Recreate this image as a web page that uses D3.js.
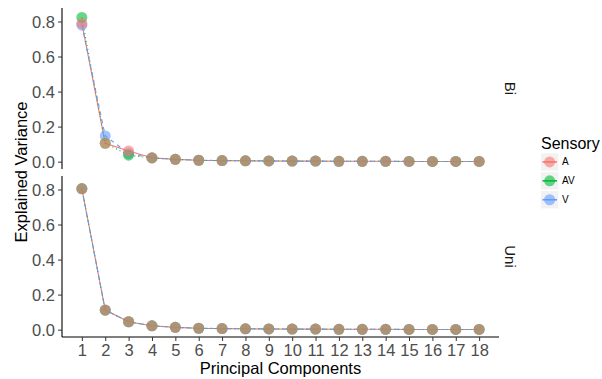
<!DOCTYPE html>
<html>
<head>
<meta charset="utf-8">
<script src="https://cdn.jsdelivr.net/npm/d3@7"></script>
<style>
body{margin:0;background:#fff;}
svg{display:block;font-family:"Liberation Sans",Arial,sans-serif;}
</style>
</head>
<body>
<svg id="chart" width="602" height="379"></svg>
<script>
const components = d3.range(1, 19);
const facets = ["Bi", "Uni"];
const sensory = ["A", "AV", "V"];
const colors = ["#F8766D", "#00BA38", "#619CFF"];
const dashes = [null, "1,3", "4,4"];
const yTicks = [0, 0.2, 0.4, 0.6, 0.8];

const biA  = [0.789, 0.105, 0.061, 0.022, 0.013, 0.008, 0.006, 0.005, 0.004, 0.003, 0.003, 0.002, 0.002, 0.002, 0.001, 0.001, 0.001, 0.001];
const biAV = [0.823, 0.105, 0.037, 0.021, 0.013, 0.008, 0.006, 0.005, 0.004, 0.003, 0.003, 0.002, 0.002, 0.002, 0.001, 0.001, 0.001, 0.001];
const biV  = [0.779, 0.147, 0.047, 0.022, 0.013, 0.008, 0.006, 0.005, 0.004, 0.003, 0.003, 0.002, 0.002, 0.002, 0.001, 0.001, 0.001, 0.001];
const uniA  = [0.804, 0.112, 0.045, 0.022, 0.013, 0.008, 0.006, 0.005, 0.004, 0.003, 0.003, 0.002, 0.002, 0.002, 0.001, 0.001, 0.001, 0.001];
const uniAV = [0.805, 0.111, 0.045, 0.022, 0.013, 0.008, 0.006, 0.005, 0.004, 0.003, 0.003, 0.002, 0.002, 0.002, 0.001, 0.001, 0.001, 0.001];
const uniV  = [0.804, 0.112, 0.045, 0.022, 0.013, 0.008, 0.006, 0.005, 0.004, 0.003, 0.003, 0.002, 0.002, 0.002, 0.001, 0.001, 0.001, 0.001];

const seriesByFacet = {Bi: [biA, biAV, biV], Uni: [uniA, uniAV, uniV]};

const svg = d3.select("#chart");
const left = 62, right = 499;
const panels = [{name: "Bi", top: 8, bottom: 169}, {name: "Uni", top: 176, bottom: 337}];

const x = d3.scaleLinear().domain([0.15, 18.85]).range([left, right]);
const color = d3.scaleOrdinal().domain(sensory).range(colors);

panels.forEach((p, pi) => {
  const y = d3.scaleLinear().domain([-0.042, 0.877]).range([p.bottom, p.top]);
  const g = svg.append("g");
  const data = seriesByFacet[p.name];
  const line = d3.line().x((d, i) => x(components[i])).y(d => y(d));

  data.forEach((vals, si) => {
    g.append("path").datum(vals)
      .attr("d", line)
      .attr("fill", "none")
      .attr("stroke", colors[si])
      .attr("stroke-width", 1.1)
      .attr("stroke-dasharray", dashes[si]);
  });
  [2, 1, 0].forEach(si => {
    g.selectAll(null).data(data[si]).enter().append("circle")
      .attr("cx", (d, i) => x(components[i]))
      .attr("cy", d => y(d))
      .attr("r", 5.5)
      .attr("fill", colors[si])
      .attr("fill-opacity", 0.6);
  });

  const ya = svg.append("g").attr("transform", `translate(${left},0)`)
    .call(d3.axisLeft(y).tickValues(yTicks).tickFormat(d3.format(".1f")).tickSize(4).tickPadding(3));
  ya.select(".domain").attr("d", `M0,${p.top}V${p.bottom}`).attr("stroke", "#000").attr("stroke-width", 1.1);
  ya.selectAll(".tick line").attr("stroke", "#333");
  ya.selectAll(".tick text").attr("fill", "#4d4d4d").style("font-size", "16.5px").attr("dy", "0.36em");

  svg.append("text")
    .attr("transform", `translate(${505},${(p.top + p.bottom) / 2}) rotate(90)`)
    .attr("text-anchor", "middle")
    .attr("fill", "#1a1a1a")
    .style("font-size", "15px")
    .text(p.name);

  if (pi === 1) {
    const xa = svg.append("g").attr("transform", `translate(0,${p.bottom})`)
      .call(d3.axisBottom(x).tickValues(components).tickSize(4).tickPadding(3));
    xa.select(".domain").attr("d", `M${left},0H${right}`).attr("stroke", "#000").attr("stroke-width", 1.1);
    xa.selectAll(".tick line").attr("stroke", "#333");
    xa.selectAll(".tick text").attr("fill", "#4d4d4d").style("font-size", "16.5px");
  }
});

svg.append("text")
  .attr("x", (left + right) / 2).attr("y", 374)
  .attr("text-anchor", "middle").style("font-size", "16.5px").attr("fill", "#000")
  .text("Principal Components");
svg.append("text")
  .attr("transform", `translate(27,172) rotate(-90)`)
  .attr("text-anchor", "middle").style("font-size", "16.5px").attr("fill", "#000")
  .text("Explained Variance");

const lg = svg.append("g");
lg.append("text").attr("x", 541).attr("y", 149).style("font-size", "16px").attr("fill", "#000").text("Sensory");
sensory.forEach((s, i) => {
  const ky = 153.3 + i * 18.9;
  lg.append("rect").attr("x", 541).attr("y", ky).attr("width", 17.3).attr("height", 17.3).attr("fill", "#f2f2f2");
  lg.append("line").attr("x1", 542.5).attr("x2", 557).attr("y1", ky + 8.65).attr("y2", ky + 8.65)
    .attr("stroke", color(s)).attr("stroke-width", 1.6);
  lg.append("circle").attr("cx", 549.65).attr("cy", ky + 8.65).attr("r", 5.5)
    .attr("fill", color(s)).attr("fill-opacity", 0.6);
  lg.append("text").attr("x", 562).attr("y", ky + 12).style("font-size", "10px").attr("fill", "#000").text(s);
});
</script>
</body>
</html>
